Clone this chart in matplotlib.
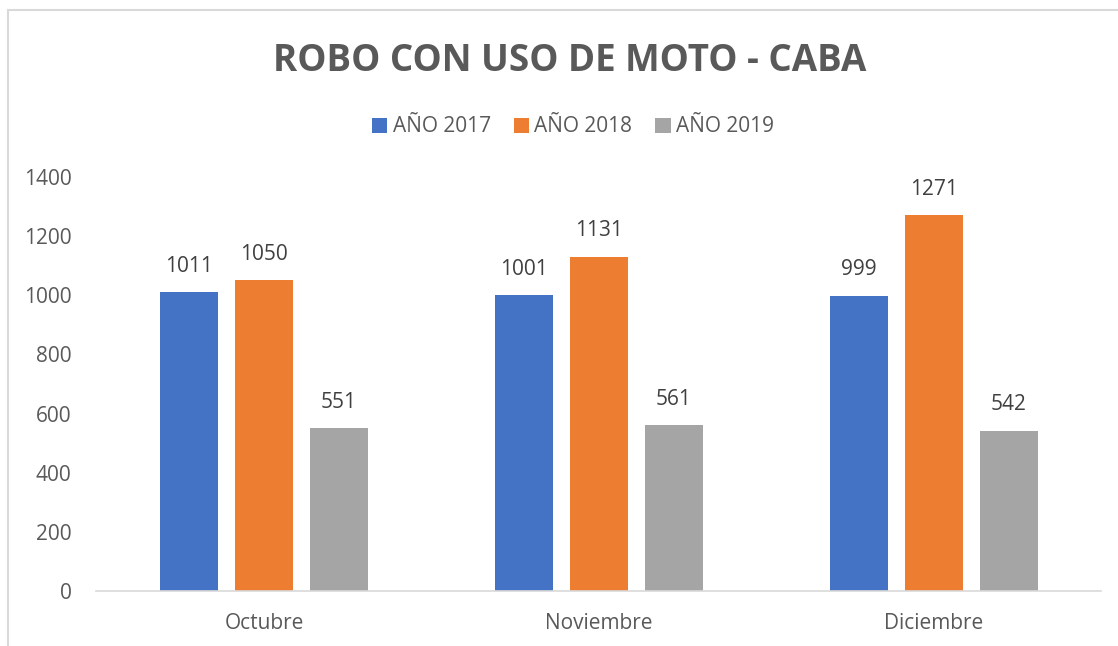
import numpy as np
import matplotlib.pyplot as plt
from matplotlib.patches import Rectangle

months = ["Octubre", "Noviembre", "Diciembre"]
series_names = ["AÑO 2017", "AÑO 2018", "AÑO 2019"]
values_2017 = [1011, 1001, 999]
values_2018 = [1050, 1131, 1271]
values_2019 = [551, 561, 542]
colors = ["#4472C4", "#ED7D31", "#A5A5A5"]

plt.rcParams["font.family"] = ["Open Sans", "DejaVu Sans"]

fig = plt.figure(figsize=(11.18, 6.46), dpi=100)
ax = fig.add_axes([0.0863, 0.0851, 0.8989, 0.641])

# chart border
fig.patches.append(Rectangle((8 / 1118, -0.05), 1.2, 1 - 10 / 646 + 0.05,
                             transform=fig.transFigure, fill=False,
                             edgecolor="#D9D9D9", linewidth=1.5))

x = np.arange(len(months))
width = 0.173
step = 0.224
for i, (name, vals) in enumerate(zip(series_names, [values_2017, values_2018, values_2019])):
    bars = ax.bar(x + (i - 1) * step, vals, width, color=colors[i], label=name)
    ax.bar_label(bars, padding=11, fontsize=15, color="#404040")

ax.set_xlim(-0.5, 2.5)
ax.set_ylim(0, 1400)
ax.set_yticks(range(0, 1401, 200))
ax.set_xticks(x)
ax.set_xticklabels(months)
ax.tick_params(length=0, labelsize=15, colors="#595959")
ax.tick_params(axis="y", pad=18)
ax.tick_params(axis="x", pad=16)
for s in ["top", "right", "left"]:
    ax.spines[s].set_visible(False)
ax.spines["bottom"].set_color("#D9D9D9")
ax.spines["bottom"].set_linewidth(1.2)

fig.text(570 / 1118, 1 - 61 / 646, "ROBO CON USO DE MOTO - CABA", ha="center", va="center",
         fontsize=26.5, fontweight="bold", color="#595959")
fig.legend(loc="center", bbox_to_anchor=(573 / 1118, 1 - 127 / 646), ncol=3, frameon=False,
           fontsize=15, handlelength=0.75, handleheight=0.75, handletextpad=0.25,
           columnspacing=1.1, labelcolor="#595959")

fig.savefig("out.png", dpi=100)
